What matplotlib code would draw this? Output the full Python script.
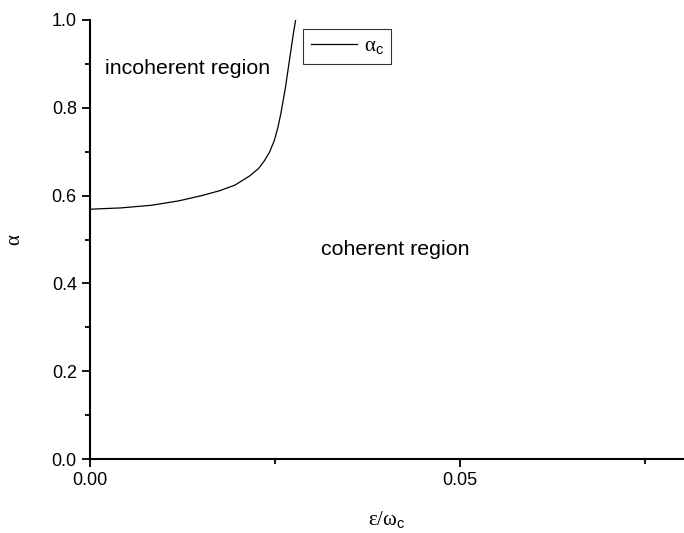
import numpy as np
import matplotlib.pyplot as plt
from matplotlib.ticker import MultipleLocator

# critical coupling curve
eps = [0.0, 0.0042, 0.0083, 0.0120, 0.0151, 0.0175, 0.0196, 0.0216, 0.0228,
       0.0236, 0.0243, 0.0249, 0.0254, 0.0258, 0.0264, 0.0270, 0.0275, 0.0278]
alpha_c = [0.569, 0.572, 0.578, 0.588, 0.600, 0.611, 0.624, 0.645, 0.662,
           0.680, 0.700, 0.725, 0.755, 0.787, 0.844, 0.913, 0.970, 1.0]

plt.rcParams['font.family'] = ['Liberation Sans', 'DejaVu Sans']
plt.rcParams['mathtext.fontset'] = 'custom'
plt.rcParams['mathtext.rm'] = 'Liberation Serif'
plt.rcParams['mathtext.it'] = 'Liberation Serif'
plt.rcParams['mathtext.sf'] = 'Liberation Sans'

fig = plt.figure(figsize=(6.84, 5.33), dpi=100)
ax = fig.add_axes([0.1316, 0.1388, 0.8684, 0.8237])

ax.plot(eps, alpha_c, color='black', lw=0.9, label=r'$\mathrm{\alpha_{\mathsf{c}}}$')

ax.set_xlim(0, 0.0803)
ax.set_ylim(0, 1.0)
ax.xaxis.set_major_locator(MultipleLocator(0.05))
ax.xaxis.set_minor_locator(MultipleLocator(0.025))
ax.yaxis.set_major_locator(MultipleLocator(0.2))
ax.yaxis.set_minor_locator(MultipleLocator(0.1))
ax.xaxis.set_major_formatter(plt.FuncFormatter(lambda v, p: '%.2f' % v))
ax.yaxis.set_major_formatter(plt.FuncFormatter(lambda v, p: '%.1f' % v))

for s in ['top', 'right']:
    ax.spines[s].set_visible(False)
for s in ['left', 'bottom']:
    ax.spines[s].set_linewidth(1.5)
ax.tick_params(which='major', direction='out', length=6, width=1.3, labelsize=13)
ax.tick_params(which='minor', direction='out', length=3.5, width=1.3)

ax.set_xlabel(r'$\mathrm{\varepsilon/\omega_{\mathsf{c}}}$', fontsize=15, labelpad=14)
ax.set_ylabel(r'$\mathrm{\alpha}$', fontsize=15, labelpad=20)

ax.text(0.002, 0.89, 'incoherent region', fontsize=15.4, va='center')
ax.text(0.0312, 0.478, 'coherent region', fontsize=15.4, va='center')

leg = ax.legend(loc='upper left', bbox_to_anchor=(0.359, 0.9795), frameon=True,
                fancybox=False, edgecolor='black', fontsize=15,
                handlelength=2.25, handletextpad=0.3, borderpad=0.35,
                borderaxespad=0)
leg.get_frame().set_linewidth(0.8)

fig.savefig('out.png', dpi=100)
